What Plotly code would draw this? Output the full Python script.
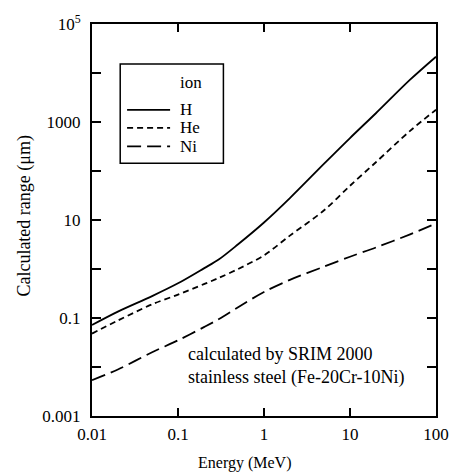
import plotly.graph_objects as go

# Ion energies (MeV) and SRIM ranges (um) in stainless steel
energy = [0.01, 0.02, 0.05, 0.1, 0.2, 0.3, 0.5, 1, 2, 5, 10, 20, 50, 100]
range_h = [0.072, 0.135, 0.28, 0.51, 1.03, 1.58, 3.2, 8.9, 28, 141, 470, 1510, 7300, 21500]
range_he = [0.048, 0.089, 0.19, 0.30, 0.49, 0.66, 1.0, 1.9, 4.8, 15.8, 50, 151, 660, 1780]
range_ni = [0.0054, 0.0089, 0.020, 0.035, 0.065, 0.095, 0.166, 0.34, 0.60, 1.12, 1.78, 2.75, 5.1, 8.5]

ions = ["H", "He", "Ni"]
dashes = ["solid", "6px,4px", "14px,6px"]
series = [range_h, range_he, range_ni]

x_ticks = [0.01, 0.1, 1, 10, 100]
x_ticktext = ["0.01", "0.1", "1", "10", "100"]
y_ticks = [1e-3, 1e-1, 10, 1e3, 1e5]
y_ticktext = ["0.001", "0.1", "10", "1000", "10<sup>5</sup>"]
y_minor = [1e-2, 1, 100, 1e4]

SERIF = "Liberation Serif, Times New Roman, serif"

fig = go.Figure()
for name, ys, dash in zip(ions, series, dashes):
    fig.add_trace(go.Scatter(
        x=energy, y=ys, mode="lines", name=name,
        line=dict(color="black", width=1.8, dash=dash, shape="spline", smoothing=0.9),
        showlegend=False,
    ))

axis_common = dict(
    type="log", showgrid=False, zeroline=False,
    showline=True, linecolor="black", linewidth=2, mirror="ticks",
    ticks="inside", tickcolor="black", tickwidth=2,
    tickfont=dict(family=SERIF, size=17, color="black"),
)
fig.update_xaxes(range=[-2, 2], tickvals=x_ticks, ticktext=x_ticktext,
                 ticklen=8, ticklabelstandoff=2, **axis_common)
fig.update_yaxes(range=[-3, 5], tickvals=y_ticks, ticktext=y_ticktext,
                 ticklen=9, ticklabelstandoff=6,
                 minor=dict(tickvals=y_minor, ticks="inside", ticklen=9,
                            tickwidth=2, tickcolor="black"),
                 **axis_common)

# Legend box drawn in paper coordinates
shapes = [dict(type="rect", xref="paper", yref="paper",
               x0=0.082, x1=0.382, y0=0.645, y1=0.898,
               line=dict(color="black", width=1.5), fillcolor="white")]
annotations = [dict(text="ion", xref="paper", yref="paper", x=0.249, y=0.852,
                    showarrow=False, xanchor="left", yanchor="middle",
                    font=dict(family=SERIF, size=17, color="black"))]
legend_y = [0.781, 0.735, 0.688]
for name, dash, ly in zip(ions, dashes, legend_y):
    shapes.append(dict(type="line", xref="paper", yref="paper",
                       x0=0.102, x1=0.227, y0=ly, y1=ly,
                       line=dict(color="black", width=1.8, dash=dash)))
    annotations.append(dict(text=name, xref="paper", yref="paper", x=0.249, y=ly,
                            showarrow=False, xanchor="left", yanchor="middle",
                            font=dict(family=SERIF, size=17, color="black")))

annotations += [
    dict(text="calculated by SRIM 2000", xref="paper", yref="paper",
         x=0.272, y=0.158, showarrow=False, xanchor="left", yanchor="middle",
         font=dict(family=SERIF, size=18, color="black")),
    dict(text="stainless steel (Fe-20Cr-10Ni)", xref="paper", yref="paper",
         x=0.272, y=0.097, showarrow=False, xanchor="left", yanchor="middle",
         font=dict(family=SERIF, size=18, color="black")),
    dict(text="Energy (MeV)", xref="paper", yref="paper",
         x=0.442, y=-0.12, showarrow=False, xanchor="center", yanchor="middle",
         font=dict(family=SERIF, size=16, color="black")),
    dict(text="Calculated range (μm)", xref="paper", yref="paper",
         x=-0.195, y=0.511, showarrow=False, xanchor="center", yanchor="middle",
         textangle=-90, font=dict(family=SERIF, size=18, color="black")),
]

fig.update_layout(
    width=461, height=472,
    margin=dict(l=92, r=16, t=24, b=56),
    paper_bgcolor="white", plot_bgcolor="white",
    font=dict(family=SERIF, color="black"),
    shapes=shapes, annotations=annotations,
)

fig.write_html("out.html")
